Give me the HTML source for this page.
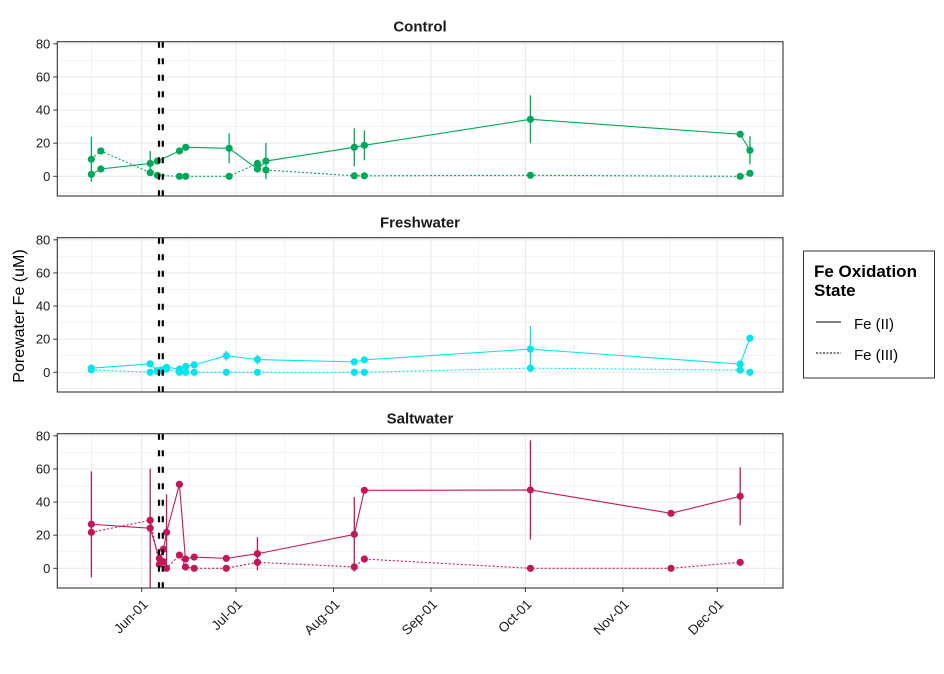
<!DOCTYPE html>
<html><head><meta charset="utf-8"><style>
html,body{margin:0;padding:0;background:#fff}
svg{display:block;font-family:"Liberation Sans",Arial,sans-serif}
</style></head><body>
<svg id="chart" width="944" height="674" viewBox="0 0 944 674"></svg>
<script>
// ---- data (days since Jun-01) ----
const controlDays = [-16,-13,2.7,5,12,14,27.8,36.8,39.5,67.6,70.8,123.6,190.3,193.4];
const controlFe2 = [1.2,4.4,7.8,9.2,15.3,17.5,16.9,4.4,9.2,17.5,18.7,34.4,25.4,15.7];
const controlFe3 = [10.3,15.3,2.2,0.6,0,0,0,7.8,3.8,0.3,0.3,0.6,0,1.8];
const controlFe2Err = [0,0,7.5,0,0,0,9,0,11,11.5,9,14.5,0,8.5];
const controlFe3Err = [13.6,0,0,0,0,0,0,0,0,0,0,0,0,0];

const freshDays = [-16,2.7,5,6.4,7.9,12,14,16.7,26.9,36.8,67.6,70.8,123.6,190.3,193.4];
const freshFe2 = [2.5,5.1,1,1.5,3,2,3.5,4.5,10,7.7,6.3,7.5,14,5,20.6];
const freshFe3 = [1.5,0,0.5,1,2,0,0,0,0,0,0,0,2.5,1.3,0];
const freshFe2Err = [2,0,0,0,0,0,0,0,3,3,0,0,14,0,0];
const freshFe3Err = [0,0,0,0,0,0,0,0,0,0,0,0,0,0,0];

const saltDays = [-16,2.7,5.6,6.9,7.9,12,13.9,16.7,26.9,36.8,67.6,70.8,123.6,168.3,190.3];
const saltFe2 = [26.6,24.2,6,11.5,21.7,50.7,5.6,6.8,6,8.8,20.5,47.1,47.3,33.2,43.5];
const saltFe3 = [21.7,29,2.4,4,0,8,0.8,0,0,3.6,0.8,5.6,0,0,3.6];
const saltFe2Err = [32,36,0,0,23,0,0,0,0,10,22.5,0,30,0,17.5];
const saltFe3Err = [0,0,0,0,0,0,0,0,0,0,0,0,0,0,0];

const yTicks = [0,20,40,60,80];
const yMinor = [-10,10,30,50,70];
const xTickLabels = ["Jun-01","Jul-01","Aug-01","Sep-01","Oct-01","Nov-01","Dec-01"];
const xTickDays = [0,30,61,92,122,153,183];
const xMinorDays = [-16,15,45.5,76.5,107,137.5,168,198];
const treatmentDays = [5.5,6.7];

const NS="http://www.w3.org/2000/svg";
const svg=document.getElementById('chart');
function mk(tag,attrs,parent){const e=document.createElementNS(NS,tag);for(const k in attrs)e.setAttribute(k,attrs[k]);(parent||svg).appendChild(e);return e;}

const PX0=57.3, PX1=783;
const xs=d=>141.7+3.145*d;
const panels=[
 {name:"Control",top:41.7,bot:196,color:"#00A859",days:controlDays,fe2:controlFe2,fe3:controlFe3,e2:controlFe2Err,e3:controlFe3Err,key:"control"},
 {name:"Freshwater",top:237.7,bot:392,color:"#00E5EE",days:freshDays,fe2:freshFe2,fe3:freshFe3,e2:freshFe2Err,e3:freshFe3Err,key:"freshwater"},
 {name:"Saltwater",top:433.7,bot:588,color:"#C2185B",days:saltDays,fe2:saltFe2,fe3:saltFe3,e2:saltFe2Err,e3:saltFe3Err,key:"saltwater"}
];

panels.forEach((p,pi)=>{
  const ys=v=>p.top+134.6-v*1.656;
  const g=mk('g',{});
  
  
  const t=mk('text',{x:420,y:p.top-10,'text-anchor':'middle','font-size':'15','font-weight':'bold',fill:'#1a1a1a'},g);
  t.textContent=p.name;
  
  
  yMinor.forEach(v=>mk('line',{x1:PX0,x2:PX1,y1:ys(v),y2:ys(v),stroke:'#ebebeb','stroke-width':0.6},g));
  xMinorDays.forEach(d=>{const x=xs(d);if(x>PX0&&x<PX1)mk('line',{x1:x,x2:x,y1:p.top,y2:p.bot,stroke:'#ebebeb','stroke-width':0.6},g);});
  yTicks.forEach(v=>mk('line',{x1:PX0,x2:PX1,y1:ys(v),y2:ys(v),stroke:'#ebebeb','stroke-width':1.2},g));
  xTickDays.forEach(d=>mk('line',{x1:xs(d),x2:xs(d),y1:p.top,y2:p.bot,stroke:'#ebebeb','stroke-width':1.2},g));
  yTicks.forEach(v=>{
    mk('line',{x1:PX0-4,x2:PX0,y1:ys(v),y2:ys(v),stroke:'#333','stroke-width':1},g);
    const tl=mk('text',{x:PX0-7,y:ys(v)+4.5,'text-anchor':'end','font-size':'13',fill:'#1a1a1a'},g);
    tl.textContent=v;
    
    
  });
  const pts2=p.days.map((d,i)=>xs(d)+','+ys(p.fe2[i])).join(' ');
  const pts3=p.days.map((d,i)=>xs(d)+','+ys(p.fe3[i])).join(' ');
  const l3=mk('polyline',{points:pts3,fill:'none',stroke:p.color,'stroke-width':1.1,'stroke-dasharray':'2,2'},g);
  
  
  const l2=mk('polyline',{points:pts2,fill:'none',stroke:p.color,'stroke-width':1.1},g);
  
  
  p.days.forEach((d,i)=>{
    if(p.e2[i]>0)mk('line',{x1:xs(d),x2:xs(d),y1:ys(p.fe2[i]-p.e2[i]),y2:ys(p.fe2[i]+p.e2[i]),stroke:p.color,'stroke-width':1.3},g);
    if(p.e3[i]>0)mk('line',{x1:xs(d),x2:xs(d),y1:ys(p.fe3[i]-p.e3[i]),y2:ys(p.fe3[i]+p.e3[i]),stroke:p.color,'stroke-width':1.3},g);
  });
  p.days.forEach((d,i)=>{
    const c2=mk('circle',{cx:xs(d),cy:ys(p.fe2[i]),r:3.6,fill:p.color},g);
    
    
    const c3=mk('circle',{cx:xs(d),cy:ys(p.fe3[i]),r:3.6,fill:p.color},g);
    
    
  });
  treatmentDays.forEach(d=>{
    const vl=mk('line',{x1:xs(d),x2:xs(d),y1:p.top,y2:p.bot,stroke:'#000','stroke-width':2.2,'stroke-dasharray':'6,10.5'},g);
    
    
  });
  mk('rect',{x:PX0,y:p.top,width:PX1-PX0,height:p.bot-p.top,fill:'none',stroke:'#333','stroke-width':1.1},g);
  if(pi===2){
    xTickDays.forEach((d,i)=>{
      mk('line',{x1:xs(d),x2:xs(d),y1:p.bot,y2:p.bot+4,stroke:'#333','stroke-width':1},g);
      const x=xs(d)+7, y=p.bot+17;
      const tl=mk('text',{x:x,y:y,'text-anchor':'end','font-size':'13.5',fill:'#1a1a1a',transform:`rotate(-45 ${x} ${y})`},g);
      tl.textContent=xTickLabels[i];
      
      
    });
  }
});
const yt=mk('text',{x:24,y:316,'text-anchor':'middle','font-size':'16',fill:'#000',transform:'rotate(-90 24 316)'});
yt.textContent='Porewater Fe (uM)';


const lg=mk('g',{});


mk('rect',{x:803.5,y:251,width:131,height:127,fill:'#fff',stroke:'#333','stroke-width':1},lg);
const lt1=mk('text',{x:814,y:277,'font-size':'17','font-weight':'bold',fill:'#000'},lg);lt1.textContent='Fe Oxidation';
const lt2=mk('text',{x:814,y:296,'font-size':'17','font-weight':'bold',fill:'#000'},lg);lt2.textContent='State';


mk('line',{x1:816,x2:841,y1:322,y2:322,stroke:'#000','stroke-width':1.1},lg);
mk('line',{x1:816,x2:841,y1:353,y2:353,stroke:'#000','stroke-width':1.1,'stroke-dasharray':'2,1.5'},lg);
const le1=mk('text',{x:854,y:329,'font-size':'15',fill:'#000'},lg);le1.textContent='Fe (II)';


const le2=mk('text',{x:854,y:360,'font-size':'15',fill:'#000'},lg);le2.textContent='Fe (III)';


</script>
</body></html>
